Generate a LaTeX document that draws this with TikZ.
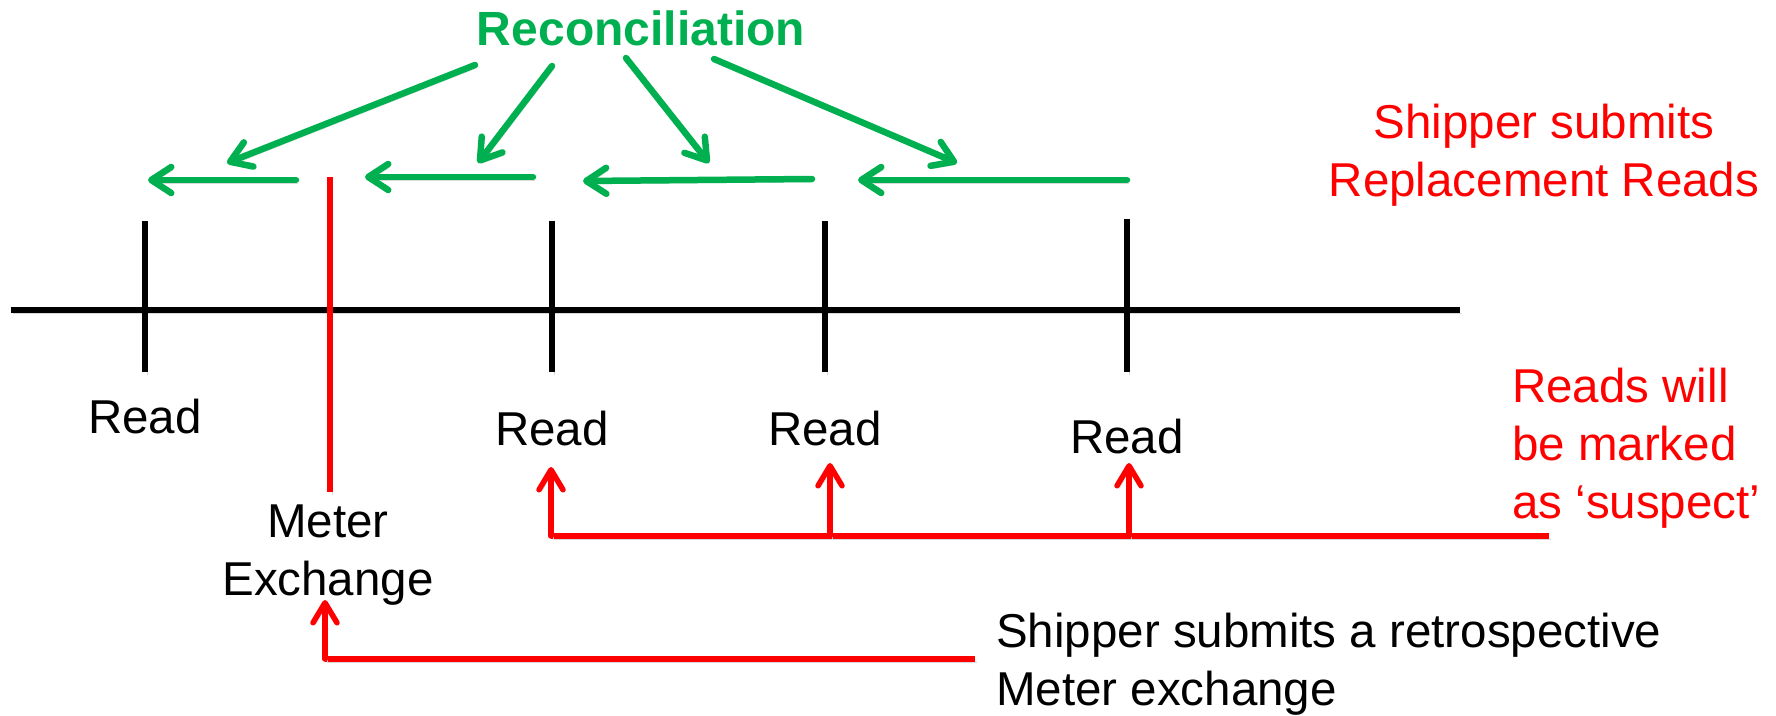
\documentclass[tikz,border=0pt]{standalone}
\usepackage{fontspec}
\setmainfont{Liberation Sans}
\usetikzlibrary{arrows.meta}
\definecolor{pgreen}{RGB}{0,176,80}
\definecolor{pred}{RGB}{255,0,0}
\newcommand{\mlines}[2]{\begin{tabular}[t]{@{}#1@{}}#2\end{tabular}}
\begin{document}
\begin{tikzpicture}[x=1pt,y=-1pt,
  txt/.style={inner sep=0pt, font=\fontsize{47.5}{58}\selectfont},
  shad/.style={preaction={draw=black!15, transform canvas={shift={(2,3)}}}},
  garrow/.style={shad, draw=pgreen, line width=6.5pt, line cap=round,
    -{Straight Barb[round,length=20pt,width=26pt,line width=6.5pt]}},
  rarrow/.style={shad, draw=pred, line width=5.5pt, line cap=round,
    -{Straight Barb[round,length=20pt,width=24pt,line width=5.5pt]}},
  rline/.style={shad, draw=pred, line width=6.5pt},
  axis/.style={shad, draw=black, line width=6.5pt},
  tick/.style={shad, draw=black, line width=5.5pt}]
\useasboundingbox (0,0) rectangle (1776,715);
% title
\node[txt, anchor=base, text=pgreen, font=\fontsize{48}{58}\selectfont\bfseries] (rec) at (641,45) {Reconciliation};
% green diagonal arrows
\coordinate (g1s) at (475,65);  \coordinate (g1e) at (227,163);
\coordinate (g2s) at (552,66);  \coordinate (g2e) at (478,163);
\coordinate (g3s) at (626,58);  \coordinate (g3e) at (709,163);
\coordinate (g4s) at (714,59);  \coordinate (g4e) at (957,163);
\draw[garrow] (g1s) -- (g1e);
\draw[garrow] (g2s) -- (g2e);
\draw[garrow] (g3s) -- (g3e);
\draw[garrow] (g4s) -- (g4e);
% green horizontal arrows
\coordinate (h1s) at (296,180); \coordinate (h1e) at (148,180);
\coordinate (h2s) at (533,177); \coordinate (h2e) at (365,177);
\coordinate (h3s) at (812,179); \coordinate (h3e) at (583,181);
\coordinate (h4s) at (1127,180); \coordinate (h4e) at (858,180);
\draw[garrow] (h1s) -- (h1e);
\draw[garrow] (h2s) -- (h2e);
\draw[garrow] (h3s) -- (h3e);
\draw[garrow] (h4s) -- (h4e);
% timeline
\coordinate (tl1) at (11,310); \coordinate (tl2) at (1460,310);
\draw[axis] (tl1) -- (tl2);
\coordinate (t1a) at (145,221);  \coordinate (t1b) at (145,372);
\coordinate (t2a) at (552,221);  \coordinate (t2b) at (552,372);
\coordinate (t3a) at (825,221);  \coordinate (t3b) at (825,372);
\coordinate (t4a) at (1127,219); \coordinate (t4b) at (1127,372);
\draw[tick] (t1a) -- (t1b);
\draw[tick] (t2a) -- (t2b);
\draw[tick] (t3a) -- (t3b);
\draw[tick] (t4a) -- (t4b);
% meter exchange red line
\coordinate (mxa) at (330,177); \coordinate (mxb) at (330,492);
\draw[rline, line width=5.5pt] (mxa) -- (mxb);
% labels
\node[txt, anchor=base] (r1) at (145,433) {Read};
\node[txt, anchor=base] (r2) at (552,445) {Read};
\node[txt, anchor=base] (r3) at (825,445) {Read};
\node[txt, anchor=base] (r4) at (1127,453) {Read};
\node[txt, anchor=base] (mx) at (328,537) {\mlines{c}{Meter\\Exchange}};
% red text
\node[txt, anchor=base, text=pred] (ssr) at (1544,138) {\mlines{c}{Shipper submits\\Replacement Reads}};
\node[txt, anchor=base west, text=pred] (sus) at (1512,402) {\mlines{l}{Reads will\\be marked\\as ‘suspect’}};
\node[txt, anchor=base west] (ret) at (996,647) {\mlines{l}{Shipper submits a retrospective\\Meter exchange}};
% red suspect arrows
\coordinate (s0) at (1549,536);
\coordinate (s1) at (551,536); \coordinate (s1t) at (551,467);
\coordinate (s2) at (830,536); \coordinate (s2t) at (830,463);
\coordinate (s3) at (1129,536); \coordinate (s3t) at (1129,463);
\draw[rline] (s0) -- (s1);
\draw[rarrow] (s1) -- (s1t);
\draw[rarrow] (s2) -- (s2t);
\draw[rarrow] (s3) -- (s3t);
% retrospective arrow
\coordinate (b0) at (975,659); \coordinate (b1) at (325,659); \coordinate (b1t) at (325,600);
\draw[rline] (b0) -- (b1);
\draw[rarrow] (b1) -- (b1t);
\end{tikzpicture}
\end{document}
